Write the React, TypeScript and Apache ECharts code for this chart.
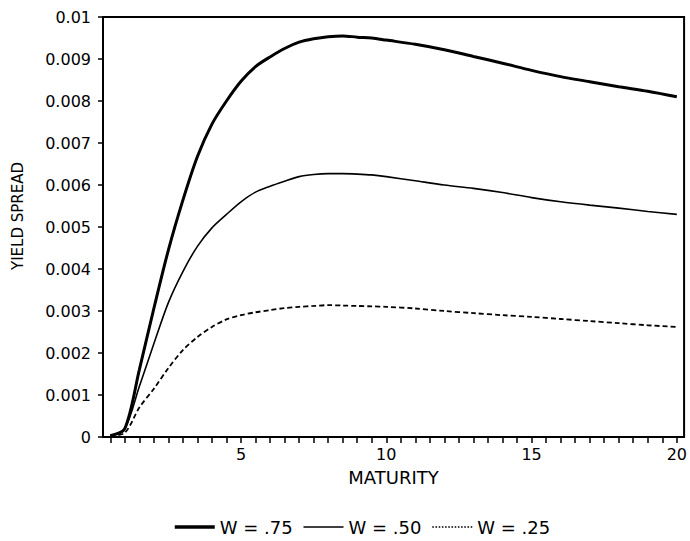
import React, { useEffect, useRef } from "react";
import * as echarts from "echarts";

const maturity = [0.5, 1, 1.5, 2, 2.5, 3, 3.5, 4, 4.5, 5, 5.5, 6, 6.5, 7, 7.5, 8, 8.5, 9, 9.5, 10, 11, 12, 13, 14, 15, 16, 17, 18, 19, 20];

const w75 = [0.00003, 0.0002, 0.0016, 0.00306, 0.00445, 0.00564, 0.00668, 0.00745, 0.008, 0.00847, 0.00882, 0.00905, 0.00925, 0.0094, 0.00948, 0.00953, 0.00955, 0.00952, 0.0095, 0.00945, 0.00935, 0.00922, 0.00906, 0.0089, 0.00873, 0.00858, 0.00846, 0.00834, 0.00823, 0.0081];

const w50 = [0.00003, 0.0002, 0.0012, 0.00222, 0.0032, 0.00394, 0.00454, 0.00498, 0.0053, 0.0056, 0.00583, 0.00597, 0.00609, 0.0062, 0.00625, 0.00627, 0.00627, 0.00626, 0.00624, 0.0062, 0.0061, 0.006, 0.00592, 0.00582, 0.0057, 0.0056, 0.00552, 0.00545, 0.00537, 0.0053];

const w25 = [0.00003, 0.0001, 0.0007, 0.00115, 0.00164, 0.00207, 0.00238, 0.00262, 0.0028, 0.0029, 0.00297, 0.00302, 0.00307, 0.0031, 0.00312, 0.00314, 0.00313, 0.00312, 0.00311, 0.0031, 0.00306, 0.003, 0.00295, 0.0029, 0.00286, 0.00281, 0.00276, 0.00271, 0.00266, 0.00262];

const xTicks = [0.5, 1, 1.5, 2, 2.5, 3, 3.5, 4, 4.5, 5, 5.5, 6, 6.5, 7, 7.5, 8, 8.5, 9, 9.5, 10, 10.5, 11, 11.5, 12, 12.5, 13, 13.5, 14, 14.5, 15, 15.5, 16, 16.5, 17, 17.5, 18, 18.5, 19, 19.5, 20];
const xLabels = [5, 10, 15, 20];

const seriesNames = ["W = .75", "W = .50", "W = .25"];

const FONT = "DejaVu Sans";

export default function App() {
  const ref = useRef<HTMLDivElement>(null);
  useEffect(() => {
    if (!ref.current) return;
    const chart = echarts.init(ref.current, null, { renderer: "svg" });
    const toPairs = (arr: number[]) => maturity.map((m, i) => [m, arr[i]]);
    chart.setOption({
      animation: false,
      backgroundColor: "#fff",
      grid: {
        left: 103,
        right: 2,
        top: 17,
        bottom: 104,
        show: true,
        borderColor: "#000",
        borderWidth: 2,
      },
      legend: {
        left: 173,
        top: 518,
        padding: 0,
        itemWidth: 40,
        itemHeight: 14,
        itemGap: 10,
        itemStyle: { opacity: 0 },
        textStyle: { fontFamily: FONT, fontSize: 18, color: "#000" },
        data: [
          { name: seriesNames[0], lineStyle: { width: 3.5, type: "solid" } },
          { name: seriesNames[1], lineStyle: { width: 1.6, type: "solid" } },
          { name: seriesNames[2], lineStyle: { width: 1.6, type: "dotted" } },
        ],
      },
      xAxis: {
        type: "value",
        min: 0.25,
        max: 20.25,
        name: "MATURITY",
        nameLocation: "middle",
        nameGap: 31,
        nameTextStyle: { fontFamily: FONT, fontSize: 18, color: "#000" },
        axisLine: { show: true, lineStyle: { color: "#000", width: 2 } },
        axisTick: { show: true, length: 6, customValues: xTicks, lineStyle: { color: "#000", width: 1.5 } },
        axisLabel: {
          customValues: xLabels,
          margin: 9,
          fontFamily: FONT,
          fontSize: 16,
          color: "#000",
        },
        splitLine: { show: false },
      },
      yAxis: {
        type: "value",
        min: 0,
        max: 0.01,
        interval: 0.001,
        name: "YIELD SPREAD",
        nameLocation: "middle",
        nameGap: 78,
        nameTextStyle: { fontFamily: FONT, fontSize: 15, color: "#000", padding: [0, 0, 0, 22] },
        axisLine: { show: true, lineStyle: { color: "#000", width: 2 } },
        axisTick: { show: true, length: 5, lineStyle: { color: "#000", width: 1.5 } },
        axisLabel: {
          margin: 12,
          fontFamily: FONT,
          fontSize: 16,
          color: "#000",
          formatter: (v: number) => String(+v.toFixed(3)),
        },
        splitLine: { show: false },
      },
      series: [
        {
          name: seriesNames[0],
          type: "line",
          data: toPairs(w75),
          symbol: "none",
          smooth: 0.3,
          lineStyle: { color: "#000", width: 3, type: "solid" },
          itemStyle: { color: "#000" },
        },
        {
          name: seriesNames[1],
          type: "line",
          data: toPairs(w50),
          symbol: "none",
          smooth: 0.3,
          lineStyle: { color: "#000", width: 1.6, type: "solid" },
          itemStyle: { color: "#000" },
        },
        {
          name: seriesNames[2],
          type: "line",
          data: toPairs(w25),
          symbol: "none",
          smooth: 0.3,
          lineStyle: { color: "#000", width: 1.8, type: [5, 3] },
          itemStyle: { color: "#000" },
        },
      ],
    });
    return () => chart.dispose();
  }, []);
  return <div ref={ref} style={{ position: "fixed", left: 0, top: 0, width: 690, height: 541 }} />;
}
